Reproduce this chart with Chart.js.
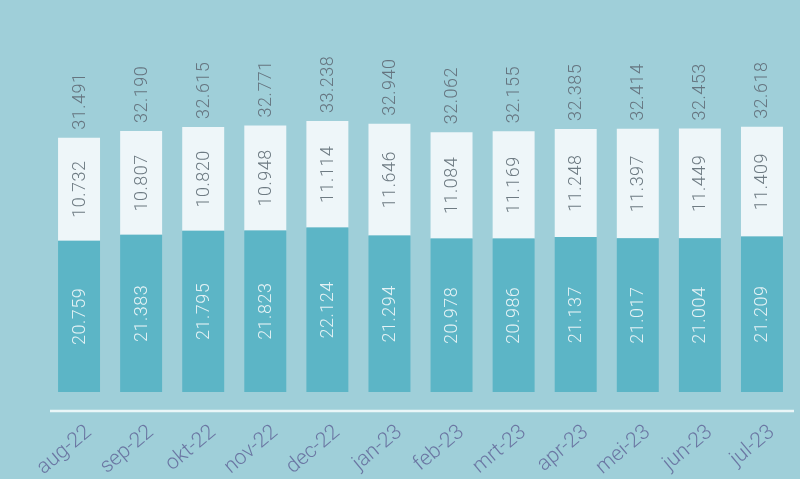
<!DOCTYPE html>
<html>
<head>
<meta charset="utf-8">
<script src="https://cdn.jsdelivr.net/npm/chart.js@4"></script>
<style>
  html, body { margin: 0; padding: 0; background: #9fcfd9; }
  #wrap { width: 800px; height: 479px; }
</style>
</head>
<body>
<div id="wrap"><canvas id="chart" width="800" height="479"></canvas></div>
<script>
const months = ['aug-22', 'sep-22', 'okt-22', 'nov-22', 'dec-22', 'jan-23', 'feb-23', 'mrt-23', 'apr-23', 'mei-23', 'jun-23', 'jul-23'];
const lowerValues = [20.759, 21.383, 21.795, 21.823, 22.124, 21.294, 20.978, 20.986, 21.137, 21.017, 21.004, 21.209];
const upperValues = [10.732, 10.807, 10.820, 10.948, 11.114, 11.646, 11.084, 11.169, 11.248, 11.397, 11.449, 11.409];
const totals = [31.491, 32.190, 32.615, 32.771, 33.238, 32.940, 32.062, 32.155, 32.385, 32.414, 32.453, 32.618];

const fmt = v => v.toFixed(3);
const labelFont = '300 18px Roboto';

// draws the rotated numbers inside and above the bars
const barLabels = {
    id: 'barLabels',
    afterDatasetsDraw(chart) {
        const ctx = chart.ctx;
        const area = chart.chartArea;
        ctx.save();
        ctx.font = labelFont;
        ctx.letterSpacing = '0.5px';
        ctx.textBaseline = 'middle';
        chart.data.datasets.forEach((ds, di) => {
            chart.getDatasetMeta(di).data.forEach((bar, i) => {
                const top = Math.max(bar.y, area.top);
                const bottom = Math.min(bar.base, area.bottom);
                ctx.save();
                ctx.translate(bar.x, (top + bottom) / 2);
                ctx.rotate(-Math.PI / 2);
                ctx.textAlign = 'center';
                ctx.fillStyle = di === 0 ? '#e4f2f5' : '#6e7b83';
                ctx.fillText(fmt(ds.data[i]), 0, 1);
                ctx.restore();
                if (di === 1) {
                    ctx.save();
                    ctx.translate(bar.x, bar.y - 8);
                    ctx.rotate(-Math.PI / 2);
                    ctx.textAlign = 'left';
                    ctx.fillStyle = '#667580';
                    ctx.fillText(fmt(totals[i]), 0, 1);
                    ctx.restore();
                }
            });
        });
        ctx.restore();
    }
};

// white base line under the bars
const baseLine = {
    id: 'baseLine',
    afterDraw(chart) {
        const ctx = chart.ctx;
        const y = chart.chartArea.bottom + 19;
        ctx.save();
        ctx.strokeStyle = '#eaf6f8';
        ctx.lineWidth = 2.5;
        ctx.beginPath();
        ctx.moveTo(50, y);
        ctx.lineTo(794, y);
        ctx.stroke();
        ctx.restore();
    }
};

new Chart(document.getElementById('chart'), {
    type: 'bar',
    data: {
        labels: months,
        datasets: [
            { data: lowerValues, backgroundColor: '#5cb5c6', barPercentage: 0.676, categoryPercentage: 1 },
            { data: upperValues, backgroundColor: '#eef6f9', barPercentage: 0.676, categoryPercentage: 1 }
        ]
    },
    options: {
        responsive: false,
        animation: false,
        layout: { padding: { left: 48, right: 7, top: 56, bottom: 0 } },
        plugins: { legend: { display: false }, tooltip: { enabled: false } },
        scales: {
            x: {
                stacked: true,
                grid: { display: false },
                border: { display: false },
                afterFit(scale) { scale.height = 87; },
                ticks: {
                    minRotation: 40,
                    maxRotation: 40,
                    padding: 20,
                    labelOffset: 10,
                    color: '#6b77a3',
                    font: { family: 'Roboto', size: 21, weight: '300' }
                }
            },
            y: {
                stacked: true,
                display: false,
                min: 5,
                max: 40
            }
        }
    },
    plugins: [barLabels, baseLine]
});
</script>
</body>
</html>
